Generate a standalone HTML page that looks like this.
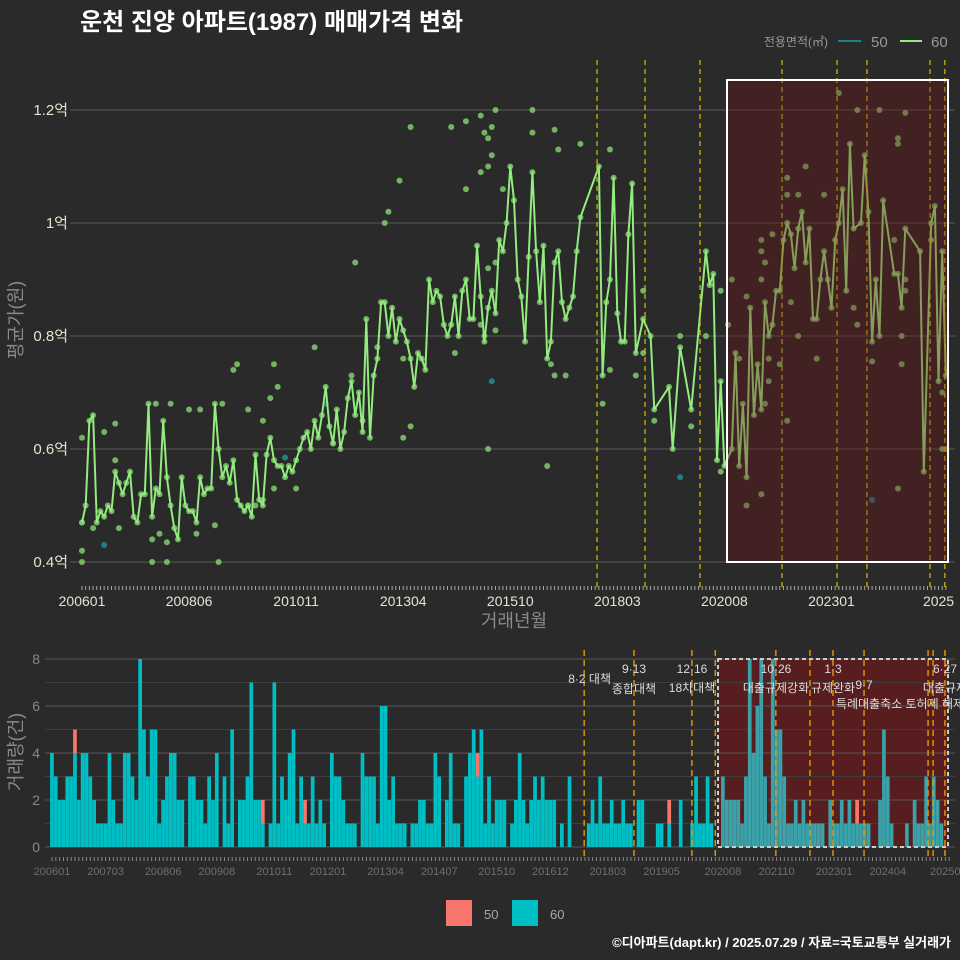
<!DOCTYPE html>
<html><head><meta charset="utf-8">
<style>
html,body{margin:0;padding:0;background:#2a2a2a;}
svg{display:block;font-family:"Liberation Sans","Noto Sans CJK KR",sans-serif;}
</style></head>
<body>
<svg id="chart" width="960" height="960" viewBox="0 0 960 960" xmlns="http://www.w3.org/2000/svg">
<rect width="960" height="960" fill="#2a2a2a"/>
<text x="80" y="30" fill="#ffffff" font-size="24" font-weight="bold">운천 진양 아파트(1987) 매매가격 변화</text>
<g>
<text x="828" y="46" fill="#999" font-size="12" text-anchor="end">전용면적(㎡)</text>
<line x1="838" y1="41" x2="861" y2="41" stroke="#1f8088" stroke-width="2"/>
<text x="871" y="47" fill="#999" font-size="15">50</text>
<line x1="900" y1="41" x2="922" y2="41" stroke="#90ee7e" stroke-width="2"/>
<text x="931" y="47" fill="#999" font-size="15">60</text>
</g>
<g id="topPanel"></g>
<g id="botPanel"></g>
<text x="514" y="627" fill="#8a8a8a" font-size="18" text-anchor="middle">거래년월</text>
<text transform="translate(22,320) rotate(-90)" fill="#8a8a8a" font-size="18" text-anchor="middle">평균가(원)</text>
<text transform="translate(22,752) rotate(-90)" fill="#8a8a8a" font-size="18" text-anchor="middle">거래량(건)</text>
<g>
<rect x="446" y="900" width="26" height="26" fill="#f8766d"/>
<text x="484" y="919" fill="#aaa" font-size="13">50</text>
<rect x="512" y="900" width="26" height="26" fill="#00bfc4"/>
<text x="550" y="919" fill="#aaa" font-size="13">60</text>
</g>
<text x="951" y="947" fill="#ffffff" font-size="13" font-weight="bold" text-anchor="end">©디아파트(dapt.kr) / 2025.07.29 / 자료=국토교통부 실거래가</text>
</svg>
<script>
const priceLine = [
0.47,0.50,0.65,0.66,0.47,0.49,0.48,0.50,0.49,0.56,0.54,0.52,
0.54,0.56,0.48,0.47,0.52,0.52,0.68,0.48,0.53,0.52,0.65,0.55,
0.50,0.46,0.44,0.55,0.50,0.49,0.49,0.47,0.55,0.52,0.53,0.53,
0.68,0.60,0.55,0.57,0.54,0.58,0.51,0.50,0.49,0.50,0.48,0.59,
0.51,0.50,0.59,0.62,0.58,0.57,0.57,0.55,0.57,0.56,0.58,0.60,
0.62,0.63,0.60,0.65,0.62,0.66,0.71,0.64,0.61,0.67,0.60,0.63,
0.69,0.72,0.66,0.70,0.63,0.83,0.62,0.73,0.76,0.86,0.86,0.80,
0.85,0.79,0.83,0.81,0.79,0.76,0.71,0.77,0.76,0.74,0.90,0.86,
0.88,0.87,0.82,0.80,0.82,0.87,0.80,0.88,0.90,0.83,0.83,0.96,
0.87,0.79,0.85,0.88,0.84,0.97,
0.95,1.00,1.10,1.04,0.90,0.87,0.79,0.94,1.09,0.95,0.86,0.96,0.76,0.79,0.93,0.95,0.86,0.83,0.85,0.87,0.95,1.01,
null,null,null,null,1.10,0.73,0.86,0.90,1.08,0.84,0.79,0.79,0.98,1.07,0.77,null,0.83,null,0.80,0.67,
null,null,null,0.71,0.60,null,0.78,null,null,0.67,null,null,null,0.95,0.89,0.91,0.58,0.72,0.57,null,
0.60,0.77,0.57,0.68,0.55,0.85,0.66,0.75,0.67,0.86,0.80,0.82,0.88,0.88,0.97,1.00,0.98,0.92,0.99,1.02,
0.93,0.99,0.83,0.83,0.90,0.95,0.90,0.85,0.97,1.00,1.06,0.88,1.14,0.99,null,1.00,1.12,1.02,0.79,0.90,
0.80,1.04,null,null,0.91,0.91,0.85,0.99,null,null,null,0.95,0.56,null,1.00,1.03,0.72,0.95,0.73];
const extraMonths60 = [0,0,0,0,6,9,9,3,10,20,24,19,23,21,23,19,29,32,31,36,37,38,41,42,45,49,51,52,53,52,58,45,47,49,63,68,76,73,74,82,83,86,89,87,89,80,87,100,104,108,109,110,111,112,111,110,108,104,110,109,108,101,112,110,112,
122,122,128,129,135,143,114,126,127,128,131,141,143,150,152,152,155,162,165,169,173,173,175,176,178,180,180,184,184,184,184,185,186,186,185,187,189,191,191,191,194,196,201,192,194,199,205,210,216,223,221,221,221,222,222,214,210,209,233,234,233,230,220,223,223];
const extraValues60 = [0.62,0.42,0.40,0.47,0.63,0.645,0.58,0.46,0.46,0.68,0.68,0.40,0.40,0.45,0.435,0.44,0.67,0.67,0.45,0.465,0.40,0.68,0.74,0.75,0.67,0.65,0.69,0.75,0.71,0.53,0.53,0.50,0.50,0.51,0.78,0.61,0.65,0.73,0.93,1.00,1.02,1.075,1.17,0.62,0.64,0.78,0.76,1.17,1.18,1.19,1.16,1.15,1.17,1.20,1.12,1.10,1.09,1.06,0.60,0.80,0.82,0.77,0.81,0.92,0.93,
1.20,1.16,1.165,1.13,1.14,1.13,1.06,0.57,0.75,0.73,0.73,0.68,0.74,0.73,0.88,0.77,0.65,0.80,0.64,0.80,0.56,0.88,0.82,0.90,0.76,0.50,0.87,0.52,0.97,0.95,0.90,0.93,0.72,0.76,0.68,0.98,0.75,0.65,1.08,1.05,1.05,1.10,1.05,0.86,0.80,0.76,1.23,1.20,1.20,1.195,1.15,1.14,0.53,0.75,0.80,0.755,0.82,0.85,0.60,0.60,0.70,0.97,0.97,0.90,0.88];
const months50 = [6,55,66,111,162,214];
const values50 = [0.43,0.585,0.68,0.72,0.55,0.51];
const vol60 = [4,3,2,2,3,3,4,2,4,4,3,2,1,1,1,4,2,1,1,4,4,3,2,8,5,3,5,5,1,2,3,4,4,2,2,0,3,3,2,2,1,3,2,4,0,3,1,5,0,2,2,3,7,2,2,1,0,1,7,1,3,2,4,5,1,3,1,1,3,1,2,1,0,4,3,3,2,1,1,1,0,4,3,3,3,1,6,6,2,3,1,1,1,0,1,1,2,2,1,1,4,3,0,2,4,1,1,0,3,4,5,3,5,1,3,1,2,
2,2,0,1,2,4,2,1,2,3,2,3,2,2,2,0,1,0,3,0,0,0,0,1,2,1,3,1,1,2,1,1,2,1,1,0,2,2,0,0,0,1,1,0,1,0,0,2,0,0,1,3,1,1,3,1,0,0,3,2,2,2,2,1,3,8,4,6,8,3,1,8,5,5,3,1,1,2,1,2,1,1,1,1,1,0,2,1,1,2,1,2,1,1,1,1,1,0,0,2,5,3,1,0,0,0,1,0,2,1,1,3,1,3,2,1];
const vol50 = {6:1,55:1,66:1,111:1,161:1,210:1};
const yTicks = [0.4,0.6,0.8,1.0,1.2];
const yTickLabels = ["0.4억","0.6억","0.8억","1억","1.2억"];
const xTickMonths = [0,29,58,87,116,145,174,203,232];
const xTickLabels = ["200601","200806","201011","201304","201510","201803","202008","202301","2025"];
const bTickMonths = [0,14,29,43,58,72,87,101,116,130,145,159,175,189,204,218,233];
const bTickLabels = ["200601","200703","200806","200908","201011","201201","201304","201407","201510","201612","201803","201905","202008","202110","202301","202404","20250"];
const volTicks = [0,2,4,6,8];
const policyTop = [139.5,152.5,167.4,189.6,204.5,212.6,229.7,233.7];
const policyBot = [138.8,151.8,166.9,173,188.8,197.7,203.7,211.8,228.5,229.8,232.9];

const NS="http://www.w3.org/2000/svg";
function mk(tag,attrs,parent){const e=document.createElementNS(NS,tag);for(const k in attrs)e.setAttribute(k,attrs[k]);parent.appendChild(e);return e;}
const topG=document.getElementById('topPanel'), botG=document.getElementById('botPanel');
const xT=m=>82+m*3.692, yT=v=>562-(v-0.4)*565;
const xB=m=>52+m*3.834, yB=v=>847-v*23.5;
const boxLeftB=718;

yTicks.forEach((v,i)=>{
  const g=mk('line',{x1:70,x2:955,y1:yT(v),y2:yT(v),stroke:'#5a5a5a','stroke-width':1},topG);
  
  
  const t=mk('text',{x:68,y:yT(v)+5,fill:'#e6e3cf','font-size':15,'text-anchor':'end'},topG);
  t.textContent=yTickLabels[i];
  
  
});
for(let m=0;m<=234;m++){
  const tk=mk('line',{x1:xT(m),x2:xT(m),y1:586,y2:590,stroke:'#aaa','stroke-width':1},topG);
  
  
}
xTickMonths.forEach((m,i)=>{
  const t=mk('text',{x:xT(m),y:606,fill:'#e6e3cf','font-size':14,'text-anchor':'middle'},topG);
  t.textContent=xTickLabels[i];
  
  
});
priceLine.forEach((v,m)=>{ if(v==null) return;
  const c=mk('circle',{cx:xT(m),cy:yT(v),r:3,fill:'#80cc6e','fill-opacity':0.85},topG);
  
  
});
extraMonths60.forEach((m,i)=>{
  const c=mk('circle',{cx:xT(m),cy:yT(extraValues60[i]),r:3,fill:'#80cc6e','fill-opacity':0.85},topG);
  
  
});
months50.forEach((m,i)=>{
  const c=mk('circle',{cx:xT(m),cy:yT(values50[i]),r:3,fill:'#1f7f86'},topG);
  
  
});
let d='';priceLine.forEach((v,m)=>{if(v==null)return;d+=(d?'L':'M')+xT(m).toFixed(1)+','+yT(v).toFixed(1);});
const pl=mk('path',{d:d,fill:'none',stroke:'#92ec7e','stroke-width':2,'stroke-linejoin':'round'},topG);


policyTop.forEach(m=>{
  const l=mk('line',{x1:xT(m),x2:xT(m),y1:60,y2:590,stroke:'#d4c400','stroke-width':1.2,'stroke-dasharray':'5,4'},topG);
  
  
});
const tb=mk('rect',{x:727,y:80,width:221,height:482,fill:'rgba(110,20,25,0.36)',stroke:'#ffffff','stroke-width':2},topG);



const bbf=mk('rect',{x:boxLeftB,y:659,width:230,height:188,fill:'#581d1e'},botG);


for(let k=0;k<=8;k++){
  const g=mk('line',{x1:45,x2:955,y1:yB(k),y2:yB(k),stroke:k%2?'#3e3e3e':'#5c5c5c','stroke-width':1,'stroke-opacity':k%2?1:0.9},botG);
  
  
}
volTicks.forEach(v=>{
  const t=mk('text',{x:40,y:yB(v)+5,fill:'#888','font-size':14,'text-anchor':'end'},botG);
  t.textContent=String(v);
  
  
});
vol60.forEach((v,m)=>{
  const r50=vol50[m]||0;
  const inBox=xB(m)>boxLeftB;
  if(v>0){const b=mk('rect',{x:xB(m)-1.9,y:yB(v),width:3.7,height:v*23.5,fill:inBox?'#3aa2a8':'#00bfc4'},botG);
  
  }
  if(r50>0){const b=mk('rect',{x:xB(m)-1.9,y:yB(v+r50),width:3.7,height:r50*23.5,fill:'#f8766d'},botG);
  
  }
});
for(let m=0;m<=234;m++){
  const tk=mk('line',{x1:xB(m),x2:xB(m),y1:857,y2:861,stroke:'#888','stroke-width':1},botG);
  
  
}
bTickMonths.forEach((m,i)=>{
  const t=mk('text',{x:xB(m),y:875,fill:'#6f6f6f','font-size':11,'text-anchor':'middle'},botG);
  t.textContent=bTickLabels[i];
  
  
});
const bb=mk('rect',{x:boxLeftB,y:659,width:230,height:188,fill:'none',stroke:'#cccccc','stroke-width':2,'stroke-dasharray':'4,3'},botG);


policyBot.forEach(m=>{
  const l=mk('line',{x1:xB(m),x2:xB(m),y1:650,y2:858,stroke:'#e89a00','stroke-width':1.4,'stroke-dasharray':'6,4'},botG);
  
  
});
const notes=[[611,683,'8·2 대책','end'],[634,673,'9·13','middle'],[634,693,'종합대책','middle'],[692,673,'12·16','middle'],[692,692,'18차대책','middle'],[776,673,'10·26','middle'],[776,692,'대출규제강화','middle'],[833,673,'1·3','middle'],[833,692,'규제완화','middle'],[864,689,'9·7','middle'],[900,708,'특례대출축소 토허제 해제','middle'],[945,673,'6·27','middle'],[945,692,'대출규제','middle']];
notes.forEach(n=>{
  const t=mk('text',{x:n[0],y:n[1],fill:'#dddddd','font-size':12,'text-anchor':n[3]},botG);
  t.textContent=n[2];
  
  
});
</script>
</body></html>
